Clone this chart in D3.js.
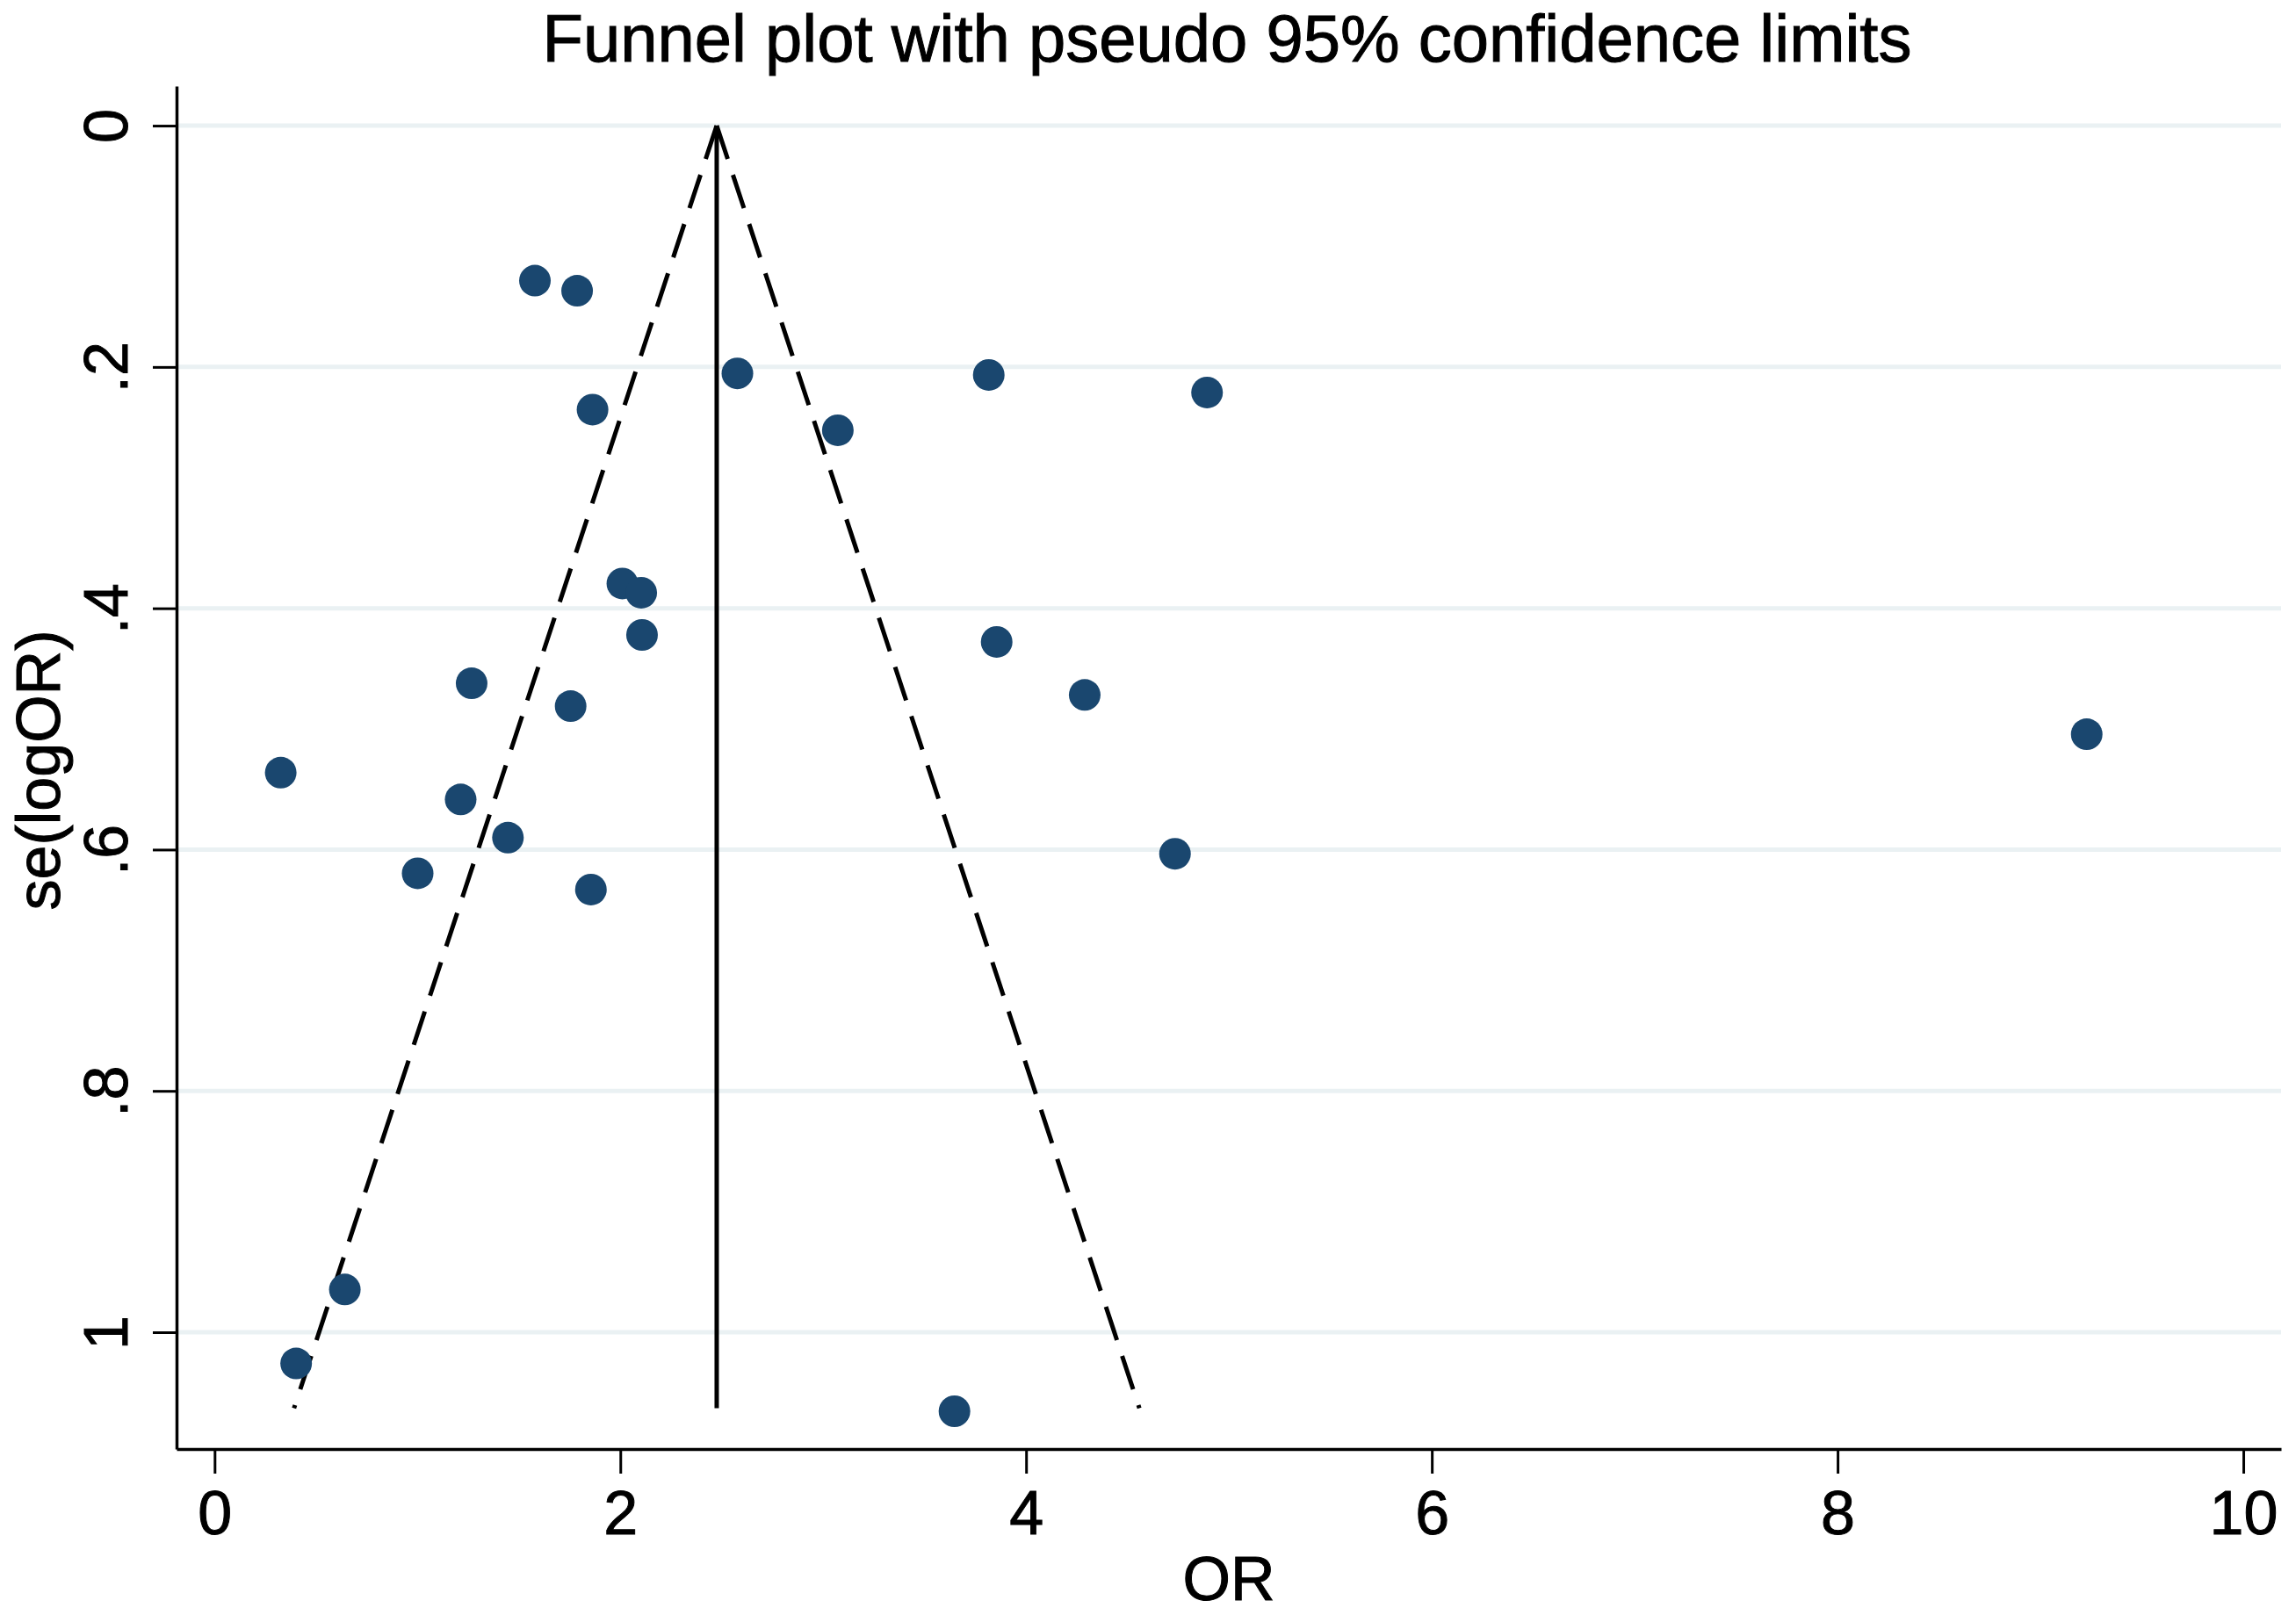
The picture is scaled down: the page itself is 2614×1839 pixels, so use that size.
<!DOCTYPE html>
<html>
<head>
<meta charset="utf-8">
<script src="https://cdn.jsdelivr.net/npm/d3@7"></script>
<style>
  html, body { margin: 0; padding: 0; background: #ffffff; }
  svg { display: block; }
  text { font-family: "Liberation Sans", Arial, Helvetica, sans-serif; fill: #000; stroke: #000; stroke-width: 1px; }
</style>
</head>
<body>
<svg id="chart" width="2614" height="1839"></svg>
<script>
// ---- Data ----
const titleText = "Funnel plot with pseudo 95% confidence limits";
const xLabel = "OR";
const yLabel = "se(logOR)";
const xTicks = [0, 2, 4, 6, 8, 10];
const yTicks = [0, 0.2, 0.4, 0.6, 0.8, 1];
const orValues = [1.579, 1.787, 2.577, 3.816, 4.892, 1.863, 3.072, 2.010, 2.103, 2.107,
                  3.855, 1.267, 4.289, 1.755, 0.326, 1.213, 1.446, 4.734, 1.001, 1.855,
                  9.228, 0.642, 0.402, 3.647];
const seValues = [0.1285, 0.1368, 0.2053, 0.2066, 0.2212, 0.2354, 0.2525, 0.3795, 0.3871, 0.4221,
                  0.4279, 0.4622, 0.4718, 0.4811, 0.5362, 0.5584, 0.5901, 0.6035, 0.6197, 0.6331,
                  0.5044, 0.9646, 1.0259, 1.0655];
const pooledOR = 2.475;   // vertical line
const seMax = 1.063;      // extent of funnel lines
const zCrit = 1.96;

// ---- Layout ----
const svg = d3.select("#chart");
const W = 2614, H = 1839;
svg.append("rect").attr("width", W).attr("height", H).attr("fill", "#ffffff");

const x = d3.scaleLinear().domain([-0.1875, 10.186]).range([201, 2597]);
const y = d3.scaleLinear().domain([-0.0328, 1.0968]).range([98, 1650]);

// Gridlines
svg.append("g").selectAll("line").data(yTicks).join("line")
  .attr("x1", 203).attr("x2", 2597)
  .attr("y1", d => y(d)).attr("y2", d => y(d))
  .attr("stroke", "#eaf1f3").attr("stroke-width", 5);

// Funnel lines
const lineG = svg.append("g");
lineG.append("line")
  .attr("x1", x(pooledOR)).attr("y1", y(0))
  .attr("x2", x(pooledOR)).attr("y2", y(seMax))
  .attr("stroke", "#000").attr("stroke-width", 5);
[-1, 1].forEach(s => {
  lineG.append("line")
    .attr("x1", x(pooledOR)).attr("y1", y(0))
    .attr("x2", x(pooledOR + s * zCrit * seMax)).attr("y2", y(seMax))
    .attr("stroke", "#000").attr("stroke-width", 5)
    .attr("stroke-dasharray", "40,19");
});

// Points
svg.append("g").selectAll("circle").data(orValues.map((v, i) => [v, seValues[i]])).join("circle")
  .attr("cx", d => x(d[0])).attr("cy", d => y(d[1])).attr("r", 18)
  .attr("fill", "#1a476f");

// Axes
const fmtY = d => d === 0 ? "0" : (d === 1 ? "1" : String(d).replace(/^0/, ""));
const yAxis = svg.append("g").attr("transform", "translate(201,0)")
  .call(d3.axisLeft(y).tickValues(yTicks).tickSize(27).tickSizeOuter(0).tickFormat(fmtY));
yAxis.select(".domain").attr("stroke", "#000").attr("stroke-width", 3.5);
yAxis.selectAll(".tick line").attr("stroke", "#000").attr("stroke-width", 3);
yAxis.selectAll(".tick text")
  .attr("x", null).attr("dy", null)
  .attr("transform", "translate(-56,0) rotate(-90)")
  .attr("text-anchor", "middle")
  .style("font-size", "70px")
  .style("font-family", "'Liberation Sans', Arial, Helvetica, sans-serif")
  .attr("fill", "#000");

const xAxis = svg.append("g").attr("transform", "translate(0,1650)")
  .call(d3.axisBottom(x).tickValues(xTicks).tickSize(28).tickPadding(19).tickSizeOuter(0).tickFormat(d3.format("d")));
xAxis.select(".domain").attr("stroke", "#000").attr("stroke-width", 3.5);
xAxis.selectAll(".tick line").attr("stroke", "#000").attr("stroke-width", 3);
xAxis.selectAll(".tick text")
  .style("font-size", "70px")
  .style("font-family", "'Liberation Sans', Arial, Helvetica, sans-serif")
  .attr("fill", "#000");

// Titles
svg.append("text").attr("x", 1397).attr("y", 70).attr("text-anchor", "middle")
  .style("font-size", "76px").text(titleText);
svg.append("text").attr("x", 1399).attr("y", 1822).attr("text-anchor", "middle")
  .style("font-size", "70px").text(xLabel);
svg.append("text").attr("transform", "translate(68,877) rotate(-90)").attr("text-anchor", "middle")
  .style("font-size", "70px").text(yLabel);
</script>
</body>
</html>
